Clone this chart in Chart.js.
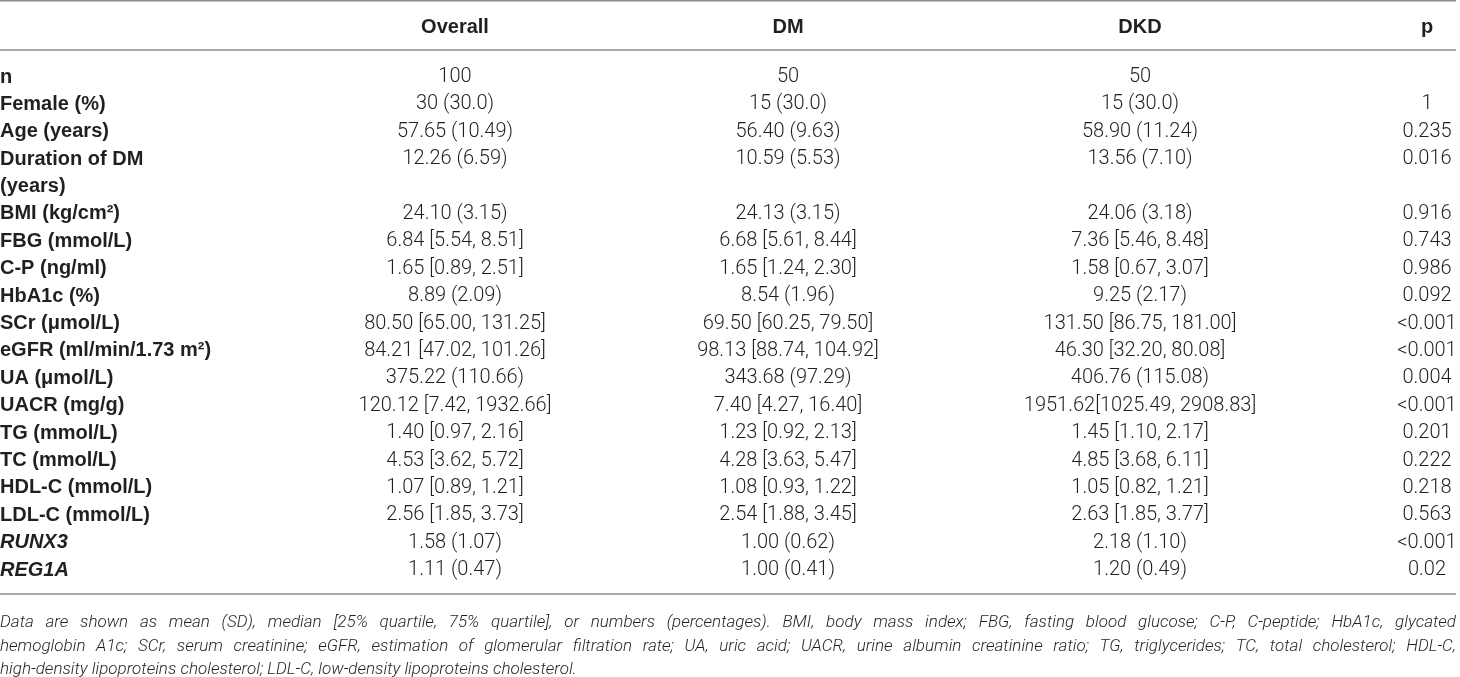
<!DOCTYPE html>
<html>
<head>
<meta charset="utf-8">
<script src="https://cdn.jsdelivr.net/npm/chart.js@4"></script>
<style>
  html, body { margin: 0; padding: 0; background: #fff; }
  #wrap { width: 1460px; height: 677px; }
</style>
</head>
<body>
<div id="wrap"><canvas id="table" width="1460" height="677"></canvas></div>
<script>
// table content
const columns = ["Overall", "DM", "DKD", "p"];
const rowLabels = ["n", "Female (%)", "Age (years)", "Duration of DM\n(years)", "BMI (kg/cm²)",
  "FBG (mmol/L)", "C-P (ng/ml)", "HbA1c (%)", "SCr (μmol/L)", "eGFR (ml/min/1.73 m²)",
  "UA (μmol/L)", "UACR (mg/g)", "TG (mmol/L)", "TC (mmol/L)", "HDL-C (mmol/L)",
  "LDL-C (mmol/L)", "RUNX3", "REG1A"];
const overall = ["100", "30 (30.0)", "57.65 (10.49)", "12.26 (6.59)", "24.10 (3.15)",
  "6.84 [5.54, 8.51]", "1.65 [0.89, 2.51]", "8.89 (2.09)", "80.50 [65.00, 131.25]",
  "84.21 [47.02, 101.26]", "375.22 (110.66)", "120.12 [7.42, 1932.66]", "1.40 [0.97, 2.16]",
  "4.53 [3.62, 5.72]", "1.07 [0.89, 1.21]", "2.56 [1.85, 3.73]", "1.58 (1.07)", "1.11 (0.47)"];
const dm = ["50", "15 (30.0)", "56.40 (9.63)", "10.59 (5.53)", "24.13 (3.15)",
  "6.68 [5.61, 8.44]", "1.65 [1.24, 2.30]", "8.54 (1.96)", "69.50 [60.25, 79.50]",
  "98.13 [88.74, 104.92]", "343.68 (97.29)", "7.40 [4.27, 16.40]", "1.23 [0.92, 2.13]",
  "4.28 [3.63, 5.47]", "1.08 [0.93, 1.22]", "2.54 [1.88, 3.45]", "1.00 (0.62)", "1.00 (0.41)"];
const dkd = ["50", "15 (30.0)", "58.90 (11.24)", "13.56 (7.10)", "24.06 (3.18)",
  "7.36 [5.46, 8.48]", "1.58 [0.67, 3.07]", "9.25 (2.17)", "131.50 [86.75, 181.00]",
  "46.30 [32.20, 80.08]", "406.76 (115.08)", "1951.62[1025.49, 2908.83]", "1.45 [1.10, 2.17]",
  "4.85 [3.68, 6.11]", "1.05 [0.82, 1.21]", "2.63 [1.85, 3.77]", "2.18 (1.10)", "1.20 (0.49)"];
const pValues = ["", "1", "0.235", "0.016", "0.916", "0.743", "0.986", "0.092", "<0.001",
  "<0.001", "0.004", "<0.001", "0.201", "0.222", "0.218", "0.563", "<0.001", "0.02"];
const italicRows = ["RUNX3", "REG1A"];
const footerLines = [
  "Data are shown as mean (SD), median [25% quartile, 75% quartile], or numbers (percentages). BMI, body mass index; FBG, fasting blood glucose; C-P, C-peptide; HbA1c, glycated",
  "hemoglobin A1c; SCr, serum creatinine; eGFR, estimation of glomerular filtration rate; UA, uric acid; UACR, urine albumin creatinine ratio; TG, triglycerides; TC, total cholesterol; HDL-C,",
  "high-density lipoproteins cholesterol; LDL-C, low-density lipoproteins cholesterol."
];

// layout (x in px, y in text-line units, n row = line 0)
const colX = [0, 455, 788, 1140, 1427];
const headerLine = -1.825;
const rules = [-2.78, -0.985, 18.87];
const footerY = [19.93, 20.8, 21.64];
const ruleEnd = 1456;

const INK = "#231f20";
const boldFont = 'bold 20px "Liberation Sans", Arial, sans-serif';
const valueFont = '300 20px Roboto, "Liberation Sans", sans-serif';
const footFont = 'italic 300 17px Roboto, "Liberation Sans", sans-serif';

// one point per cell; text attached to the point
const cells = [];
columns.forEach((c, i) => cells.push({ x: colX[i + 1], y: headerLine, text: c, kind: "head" }));
let line = 0;
const series = [overall, dm, dkd, pValues];
rowLabels.forEach((lab, r) => {
  cells.push({ x: colX[0], y: line, text: lab, kind: italicRows.includes(lab) ? "labelItalic" : "label" });
  series.forEach((s, c) => cells.push({ x: colX[c + 1], y: line, text: s[r], kind: "value" }));
  line += lab.split("\n").length;
});
const footCells = footerLines.map((t, i) => ({ x: 0, y: footerY[i], text: t, kind: "foot", last: i === footerLines.length - 1 }));

const tableText = {
  id: "tableText",
  afterDatasetsDraw(chart) {
    const ctx = chart.ctx;
    const xs = chart.scales.x, ys = chart.scales.y;
    ctx.save();
    // rules
    ctx.strokeStyle = "#8c8c8c";
    ctx.lineWidth = 1.6;
    rules.forEach(r => {
      const py = ys.getPixelForValue(r);
      ctx.beginPath();
      ctx.moveTo(xs.getPixelForValue(0), py);
      ctx.lineTo(xs.getPixelForValue(ruleEnd), py);
      ctx.stroke();
    });
    ctx.fillStyle = INK;
    ctx.textBaseline = "middle";
    chart.data.datasets.forEach((ds, di) => {
      const meta = chart.getDatasetMeta(di);
      meta.data.forEach((pt, i) => {
        const d = ds.data[i];
        if (!d.text) return;
        if (d.kind === "foot") {
          ctx.font = footFont;
          ctx.textAlign = "left";
          const words = d.text.split(" ");
          if (d.last) { ctx.fillText(d.text, pt.x, pt.y); return; }
          const ww = words.map(w => ctx.measureText(w).width);
          const total = ww.reduce((a, b) => a + b, 0);
          const gap = (xs.getPixelForValue(ruleEnd) - pt.x - total) / (words.length - 1);
          let x = pt.x;
          words.forEach((w, k) => { ctx.fillText(w, x, pt.y); x += ww[k] + gap; });
          return;
        }
        if (d.kind === "label" || d.kind === "labelItalic") {
          ctx.font = d.kind === "labelItalic" ? "italic " + boldFont : boldFont;
          ctx.textAlign = "left";
          const step = ys.getPixelForValue(1) - ys.getPixelForValue(0);
          d.text.split("\n").forEach((t, k) => ctx.fillText(t, pt.x, pt.y + k * step));
          return;
        }
        ctx.font = d.kind === "head" ? boldFont : valueFont;
        ctx.textAlign = "center";
        ctx.fillText(d.text, pt.x, pt.y);
      });
    });
    ctx.restore();
  }
};

new Chart(document.getElementById("table"), {
  type: "scatter",
  data: {
    datasets: [
      { data: cells, pointRadius: 0, pointHoverRadius: 0 },
      { data: footCells, pointRadius: 0, pointHoverRadius: 0 }
    ]
  },
  options: {
    responsive: false,
    animation: false,
    events: [],
    layout: { padding: 0 },
    plugins: { legend: { display: false }, tooltip: { enabled: false } },
    scales: {
      x: { type: "linear", min: 0, max: 1460, display: false },
      y: { type: "linear", reverse: true, min: -2.81, max: 21.9, display: false }
    }
  },
  plugins: [tableText]
});
</script>
</body>
</html>
